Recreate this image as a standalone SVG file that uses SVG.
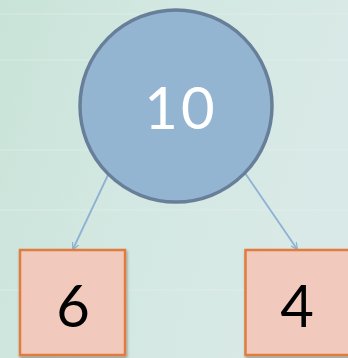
<svg xmlns="http://www.w3.org/2000/svg" width="348" height="358" viewBox="0 0 348 358">
<defs>
<linearGradient id="bg" x1="0" y1="0" x2="1" y2="0.3">
<stop offset="0" stop-color="#c9e3d8"/>
<stop offset="0.5" stop-color="#d3e8e2"/>
<stop offset="1" stop-color="#d9e9e7"/>
</linearGradient>
<marker id="ah" viewBox="0 0 10 10" refX="9" refY="5" markerWidth="7" markerHeight="7" orient="auto" markerUnits="userSpaceOnUse">
<path d="M0,0 L10,5 L0,10" fill="none" stroke="#8fb1d3" stroke-width="1.8"/>
</marker>
<filter id="sh" x="-10%" y="-10%" width="130%" height="130%">
<feDropShadow dx="1" dy="2" stdDeviation="1.5" flood-color="#000" flood-opacity="0.35"/>
</filter>
</defs>
<style>
.box{fill:#f1cabd;stroke:#e07c3e;stroke-width:2.5}
.lbl{font-family:"Lato","Noto Sans",sans-serif;font-size:58px;text-anchor:middle}
.conn{stroke:#8fb1d3;stroke-width:1.8;fill:none;marker-end:url(#ah)}
</style>
<rect width="348" height="358" fill="url(#bg)"/>
<g opacity="0.12" stroke="#ffffff" stroke-width="2">
<line x1="0" y1="14" x2="348" y2="14"/>
<line x1="0" y1="60" x2="348" y2="60"/>
<line x1="0" y1="150" x2="348" y2="150"/>
<line x1="0" y1="210" x2="348" y2="210"/>
<line x1="0" y1="290" x2="348" y2="290"/>
</g>
<g id="connectors">
<line class="conn" x1="108" y1="175" x2="73" y2="249"/>
<line class="conn" x1="245" y1="173" x2="297" y2="249"/>
</g>
<g id="node-10">
<circle cx="176" cy="106" r="96" fill="#94b5d2" stroke="#687f99" stroke-width="3.5"/>
<text class="lbl" x="181" y="129" fill="#ffffff" letter-spacing="3">10</text>
</g>
<g id="node-6">
<rect class="box" x="20" y="250" width="105" height="105" filter="url(#sh)"/>
<text class="lbl" x="73" y="327" fill="#000000">6</text>
</g>
<g id="node-4">
<rect class="box" x="245.5" y="250" width="105" height="105" filter="url(#sh)"/>
<text class="lbl" x="297" y="327" fill="#000000">4</text>
</g>
</svg>
